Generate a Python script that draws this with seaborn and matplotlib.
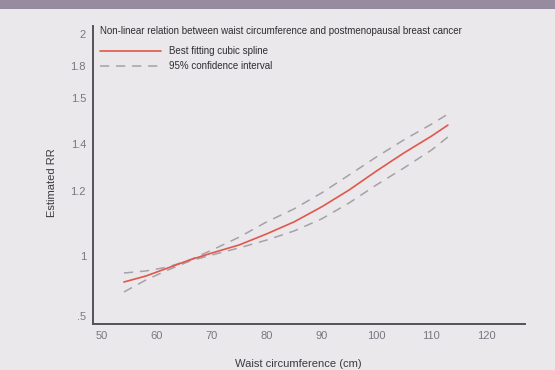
import numpy as np
import pandas as pd
import matplotlib
matplotlib.use("Agg")
import matplotlib.pyplot as plt
import seaborn as sns

# ---- data ----
waist = [54, 58, 62, 66, 70, 75, 80, 85, 90, 95, 100, 105, 110, 113]
rr_fit = [0.783, 0.833, 0.900, 0.967, 1.009, 1.034, 1.068, 1.105, 1.151, 1.204, 1.285, 1.362, 1.417, 1.441]
rr_upper = [0.858, 0.875, 0.908, 0.967, 1.018, 1.058, 1.105, 1.145, 1.194, 1.268, 1.345, 1.409, 1.443, 1.465]
rr_lower = [0.700, 0.800, 0.883, 0.958, 1.003, 1.025, 1.049, 1.077, 1.114, 1.163, 1.226, 1.298, 1.374, 1.415]

x_ticks = [50, 60, 70, 80, 90, 100, 110, 120]
y_ticks = [0.5, 1, 1.2, 1.4, 1.5, 1.8, 2]
y_tick_labels = [".5", "1", "1.2", "1.4", "1.5", "1.8", "2"]

title_text = "Non-linear relation between waist circumference and postmenopausal breast cancer"
fit_label = "Best fitting cubic spline"
ci_label = "95% confidence interval"

# irregular y axis of the original: piecewise-linear scale through tick anchors
anchor_vals = np.array([0.3, 0.5, 1.0, 1.2, 1.4, 1.5, 1.8, 2.0, 2.2])
anchor_pos = np.array([-24.0, 0.0, 60.0, 125.0, 172.0, 218.0, 250.0, 282.0, 314.0])


def fwd(v):
    return np.interp(v, anchor_vals, anchor_pos)


def inv(p):
    return np.interp(p, anchor_pos, anchor_vals)


df = pd.DataFrame({"waist": waist, "fit": rr_fit, "upper": rr_upper, "lower": rr_lower})

sns.set_theme(style="white")
plt.rcParams["font.family"] = ["Liberation Sans", "DejaVu Sans"]

BG = "#ebe8ec"
fig = plt.figure(figsize=(5.55, 3.7), dpi=100, facecolor=BG)
ax = fig.add_axes([93 / 555, 1 - 324 / 370, (525 - 93) / 555, (324 - 26) / 370])
ax.set_facecolor(BG)

# header band
fig.patches.append(plt.Rectangle((0, 1 - 9 / 370), 1, 9 / 370, transform=fig.transFigure,
                                 facecolor="#968b9f", edgecolor="none", zorder=0))

red = "#e0574c"
grey = "#a5a1a8"
sns.lineplot(data=df, x="waist", y="upper", ax=ax, color=grey, lw=1.1, label=ci_label)
sns.lineplot(data=df, x="waist", y="lower", ax=ax, color=grey, lw=1.1, label="_nolegend_")
for ln in ax.lines:
    ln.set_dashes([6, 4.5])
sns.lineplot(data=df, x="waist", y="fit", ax=ax, color=red, lw=1.2, label=fit_label)

ax.set_yscale("function", functions=(fwd, inv))
ax.set_xlim(48.36, 127.05)
ax.set_ylim(0.433, 2.05)
ax.set_xticks(x_ticks)
ax.set_yticks(y_ticks)
ax.set_yticklabels(y_tick_labels)
ax.minorticks_off()
ax.tick_params(axis="both", length=0, labelsize=8, labelcolor="#7a7680")
ax.tick_params(axis="x", pad=5)
ax.tick_params(axis="y", pad=5)

for s in ["top", "right"]:
    ax.spines[s].set_visible(False)
for s in ["left", "bottom"]:
    ax.spines[s].set_color("#555158")
    ax.spines[s].set_linewidth(1.4)

ax.set_xlabel("Waist circumference (cm)", fontsize=8, color="#3c3a3e", labelpad=13,
              x=(298 - 93) / 432)
ax.set_ylabel("Estimated RR", fontsize=8, color="#3c3a3e", labelpad=10,
              y=(324 - 183) / 298)

fig.text(100 / 555, 1 - 31 / 370, title_text, fontsize=7, color="#2f2d31", va="center", ha="left")

h, l = ax.get_legend_handles_labels()
order = [l.index(fit_label), l.index(ci_label)]
leg = ax.legend([h[i] for i in order], [l[i] for i in order], loc="upper left",
                bbox_to_anchor=(100 / 555, 1 - 46 / 370), bbox_transform=fig.transFigure,
                frameon=False, fontsize=7, handlelength=6.3, handletextpad=0.8,
                labelspacing=0.55, borderpad=0, borderaxespad=0)
for t in leg.get_texts():
    t.set_color("#2f2d31")

fig.savefig("out.png", dpi=100, facecolor=BG)
